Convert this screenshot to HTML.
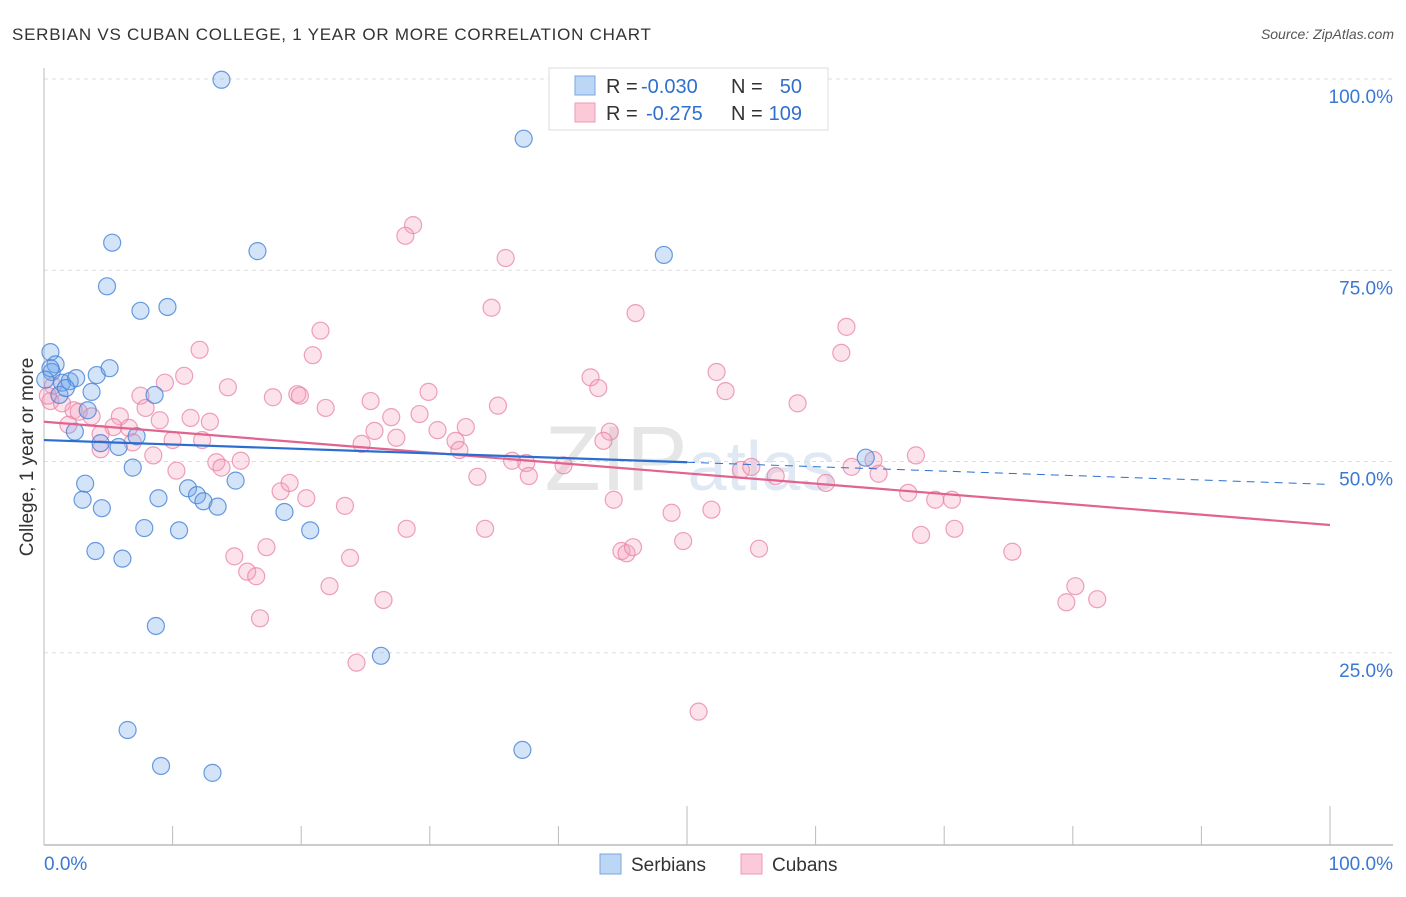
<!DOCTYPE html>
<html><head><meta charset="utf-8"><style>
body{margin:0;background:#fff;font-family:"Liberation Sans",sans-serif}
svg text{font-family:"Liberation Sans",sans-serif}
</style></head><body>
<svg id="c" width="1406" height="892">
<text x="12" y="40" font-size="17" fill="#333" letter-spacing="0.75">SERBIAN VS CUBAN COLLEGE, 1 YEAR OR MORE CORRELATION CHART</text>
<text x="1394" y="39" font-size="14" fill="#555" text-anchor="end" font-style="italic">Source: ZipAtlas.com</text>
<text x="33" y="457" font-size="19" fill="#333" text-anchor="middle" transform="rotate(-90 33 457)">College, 1 year or more</text>
<text x="690" y="490" font-size="92" fill="#e6e6e6" text-anchor="middle" font-family="Liberation Serif">ZIP<tspan fill="#dfe8f3" font-family="Liberation Sans" font-size="70">atlas</tspan></text>
<g id="grid"></g><g id="axes"></g><g id="pts"></g><g id="trend"></g>
<g>
<rect x="549" y="68" width="279" height="62" fill="#fff" stroke="#ddd"/>
<rect x="575" y="76" width="20" height="19" fill="#bcd6f5" stroke="#7aa7e0"/>
<rect x="575" y="103" width="20" height="19" fill="#fcc9d8" stroke="#ec9ab5"/>
<g font-size="20">
<text x="606" y="93" fill="#333">R =</text><text x="641" y="93" fill="#2f6fd0">-0.030</text>
<text x="731" y="93" fill="#333">N =</text><text x="802" y="93" fill="#2f6fd0" text-anchor="end">50</text></g>
<g font-size="20">
<text x="606" y="120" fill="#333">R =</text><text x="646" y="120" fill="#2f6fd0">-0.275</text>
<text x="731" y="120" fill="#333">N =</text><text x="802" y="120" fill="#2f6fd0" text-anchor="end">109</text></g>
</g>
<g>
<rect x="600" y="854" width="21" height="20" fill="#bcd6f5" stroke="#7aa7e0"/>
<text x="631" y="871" font-size="19" fill="#333">Serbians</text>
<rect x="741" y="854" width="21" height="20" fill="#fcc9d8" stroke="#ec9ab5"/>
<text x="772" y="871" font-size="19" fill="#333">Cubans</text>
</g>
</svg>
<script>
const yTicks=[25,50,75,100];
const yTickLabels=["25.0%","50.0%","75.0%","100.0%"];
const xTickLabels=["0.0%","100.0%"];
const serbX=[13.8,37.3,5.3,16.6,48.2,4.9,7.5,9.6,0.5,0.9,0.6,1.4,2.0,2.5,3.7,4.1,5.1,8.6,1.2,3.4,2.4,4.4,5.8,7.2,6.9,3.2,3.0,4.5,8.9,11.2,11.9,12.4,13.5,14.9,18.7,20.7,7.8,10.5,4.0,6.1,8.7,26.2,6.5,9.1,13.1,37.2,63.9,0.5,1.7,0.1];
const serbY=[99.9,92.2,78.6,77.5,77.0,72.9,69.7,70.2,64.3,62.7,61.7,60.3,60.5,60.9,59.1,61.3,62.2,58.7,58.7,56.7,53.9,52.4,51.9,53.3,49.2,47.1,45.0,43.9,45.2,46.5,45.6,44.8,44.1,47.5,43.4,41.0,41.3,41.0,38.3,37.3,28.5,24.6,14.9,10.2,9.3,12.3,50.5,62.2,59.6,60.7];
const cubX=[28.7,28.1,35.9,34.8,21.5,46.0,62.4,12.1,20.9,62.0,52.3,10.9,9.4,14.3,42.5,43.1,53.0,29.9,19.7,19.9,17.8,25.4,7.5,58.6,35.3,21.9,29.2,27.0,7.9,2.3,2.7,5.9,3.7,9.0,11.4,12.9,1.9,5.4,4.4,6.6,25.7,27.4,30.6,32.8,44.0,43.5,24.7,32.0,32.3,10.0,12.3,6.9,4.4,8.5,15.3,13.4,13.8,36.4,37.5,40.4,37.7,33.7,10.3,54.2,55.0,56.9,62.8,64.5,64.9,67.8,60.8,67.2,69.3,70.6,44.3,48.8,51.9,18.4,19.1,20.4,23.4,28.2,34.3,70.8,68.2,49.7,17.3,44.9,45.3,45.8,55.6,75.3,14.8,23.8,15.8,16.5,22.2,80.2,79.5,81.9,26.4,16.8,24.3,50.9,0.5,0.7,1.4,0.3];
const cubY=[80.9,79.5,76.6,70.1,67.1,69.4,67.6,64.6,63.9,64.2,61.7,61.2,60.3,59.7,61.0,59.6,59.2,59.1,58.8,58.6,58.4,57.9,58.6,57.6,57.3,57.0,56.2,55.8,57.0,56.7,56.5,55.9,55.9,55.4,55.7,55.2,54.8,54.5,53.6,54.4,54.0,53.1,54.1,54.5,53.9,52.7,52.3,52.7,51.5,52.8,52.8,52.5,51.6,50.8,50.1,49.9,49.2,50.1,49.8,49.5,48.1,48.0,48.8,48.9,49.3,48.1,49.3,50.2,48.4,50.8,47.2,45.9,45.0,45.0,45.0,43.3,43.7,46.1,47.2,45.2,44.2,41.2,41.2,41.2,40.4,39.6,38.8,38.3,38.0,38.8,38.6,38.2,37.6,37.4,35.6,35.0,33.7,33.7,31.6,32.0,31.9,29.5,23.7,17.3,57.9,59.9,57.6,58.6];
const serbTrend=[52.8,47.0];
const cubTrend=[55.2,41.7];
const NS="http://www.w3.org/2000/svg";
const X=v=>44+v*12.86, Y=v=>844-v*7.65;
function mk(t,a,p){const e=document.createElementNS(NS,t);for(const k in a)e.setAttribute(k,a[k]);p.appendChild(e);return e;}
const grid=document.getElementById('grid'),axes=document.getElementById('axes'),pts=document.getElementById('pts'),tr=document.getElementById('trend');
yTicks.forEach((t,i)=>{
 const l=mk('line',{x1:44,x2:1393,y1:Y(t),y2:Y(t),stroke:'#ddd','stroke-dasharray':'4,4'},grid);
 
 
 const tx=mk('text',{x:1393,y:Y(t)+24,'font-size':19,fill:'#3a78d4','text-anchor':'end'},grid);
 tx.textContent=yTickLabels[i];
 
 
});
let a=mk('line',{x1:44,x2:44,y1:68,y2:845,stroke:'#bbb'},axes);


a=mk('line',{x1:44,x2:1393,y1:845,y2:845,stroke:'#bbb','stroke-width':1.5},axes);


for(let i=1;i<=10;i++){
 const t=mk('line',{x1:X(i*10),x2:X(i*10),y1:(i%5==0)?806:826,y2:845,stroke:'#bbb'},axes);
 
 
}
[[0,'start',44],[100,'end',1393]].forEach((d,i)=>{
 const tx=mk('text',{x:d[2],y:870,'font-size':19,fill:'#3a78d4','text-anchor':d[1]},axes);
 tx.textContent=xTickLabels[i];
 
 
});
function dots(xs,ys,fill,stroke,name){
 xs.forEach((x,i)=>{
  const c=mk('circle',{cx:X(x),cy:Y(ys[i]),r:8.5,fill:fill,stroke:stroke,'stroke-width':1.2},pts);
  
  
 });
}
dots(cubX,cubY,'rgba(245,160,190,0.3)','rgba(232,130,165,0.75)','cuban-point');
dots(serbX,serbY,'rgba(110,165,235,0.3)','rgba(70,130,215,0.8)','serbian-point');
let l=mk('line',{x1:X(0),y1:Y(cubTrend[0]),x2:X(100),y2:Y(cubTrend[1]),stroke:'#e0648f','stroke-width':2.2},tr);


const ym=serbTrend[0]+(serbTrend[1]-serbTrend[0])*0.5;
l=mk('line',{x1:X(0),y1:Y(serbTrend[0]),x2:X(50),y2:Y(ym),stroke:'#2a6fd0','stroke-width':2.2},tr);


l=mk('line',{x1:X(50),y1:Y(ym),x2:X(100),y2:Y(serbTrend[1]),stroke:'#2a6fd0','stroke-width':1,'stroke-dasharray':'8,6'},tr);


</script>
</body></html>
